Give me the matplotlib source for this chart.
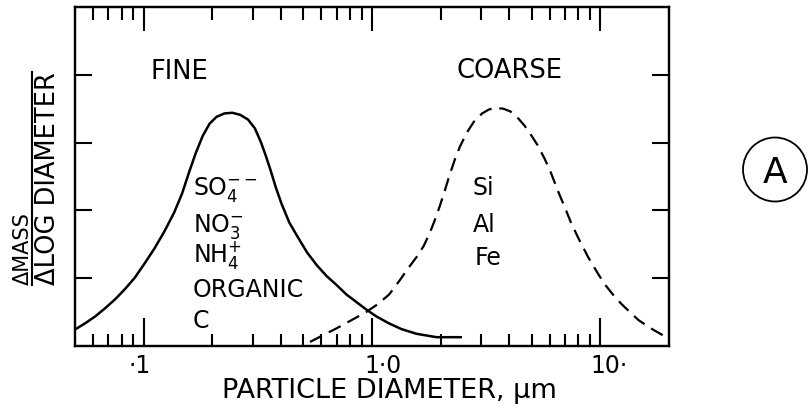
import matplotlib
matplotlib.use('Agg')
import matplotlib.pyplot as plt
import matplotlib.transforms as mtransforms
from matplotlib.patches import Circle
from matplotlib.lines import Line2D

plt.rcParams['font.family'] = ['DejaVu Sans']
plt.rcParams['mathtext.default'] = 'regular'

# ---------------- data ----------------
fine_x = [0.0504, 0.0557, 0.0615, 0.0679, 0.0750, 0.0828, 0.0915, 0.1010,
          0.1115, 0.1232, 0.1360, 0.1473, 0.1579, 0.1692, 0.1814, 0.1944,
          0.2084, 0.2256, 0.2443, 0.2645, 0.2863, 0.3069, 0.3258, 0.3423,
          0.3597, 0.3781, 0.4013, 0.4344, 0.4704, 0.5194, 0.5735, 0.6333,
          0.6994, 0.7723, 0.8532, 0.9421, 1.041, 1.177, 1.344, 1.566,
          1.919, 2.476]
fine_y = [0.25, 0.34, 0.44, 0.56, 0.69, 0.84, 1.01, 1.22,
          1.44, 1.69, 1.97, 2.25, 2.56, 2.85, 3.10, 3.28,
          3.38, 3.43, 3.44, 3.41, 3.34, 3.21, 3.01, 2.81,
          2.59, 2.35, 2.10, 1.82, 1.62, 1.38, 1.19, 1.03,
          0.90, 0.76, 0.65, 0.54, 0.44, 0.34, 0.25, 0.18,
          0.13, 0.13]

coarse_x = [0.535, 0.603, 0.699, 0.812, 0.942, 1.063, 1.189, 1.317, 1.443,
            1.566, 1.681, 1.787, 1.881, 1.980, 2.083, 2.191, 2.306, 2.427,
            2.606, 2.798, 3.036, 3.261, 3.501, 3.760, 4.038, 4.337, 4.658,
            5.002, 5.318, 5.709, 6.070, 6.519, 7.001, 7.442, 7.993, 8.850,
            9.799, 10.52, 11.42, 12.38, 13.58, 14.73, 16.65, 19.00]
coarse_y = [0.06, 0.15, 0.26, 0.38, 0.50, 0.62, 0.76, 0.96, 1.15,
            1.31, 1.47, 1.66, 1.85, 2.06, 2.29, 2.53, 2.75, 2.94,
            3.15, 3.31, 3.43, 3.49, 3.51, 3.50, 3.46, 3.37, 3.25,
            3.10, 2.96, 2.76, 2.56, 2.29, 2.04, 1.82, 1.60, 1.31,
            1.06, 0.90, 0.75, 0.62, 0.49, 0.38, 0.26, 0.15]

x_major_ticks = [0.1, 1.0, 10.0]
x_tick_labels = ['·1', '1·0', '10·']
x_minor_ticks = [0.06, 0.07, 0.08, 0.09, 0.2, 0.3, 0.4, 0.5, 0.6, 0.7, 0.8,
                 0.9, 2, 3, 4, 5, 6, 7, 8, 9]
y_ticks = [1, 2, 3, 4]
mode_labels = ['FINE', 'COARSE']
fine_species = ['SO$_4^{--}$', 'NO$_3^{-}$', 'NH$_4^{+}$', 'ORGANIC', 'C']
coarse_species = ['Si', 'Al', 'Fe']
x_label = 'PARTICLE DIAMETER, µm'
y_label_num = 'ΔMASS'
y_label_den = 'ΔLOG DIAMETER'
panel_letter = 'A'

# ---------------- figure ----------------
W, H = 808, 417
fig = plt.figure(figsize=(W / 100, H / 100), dpi=100)
L, R, T, B = 75, 669, 7, 346
ax = fig.add_axes([L / W, 1 - B / H, (R - L) / W, (B - T) / H])
ax.set_xscale('log')
ax.set_xlim(0.05, 20)
ax.set_ylim(0, 5)

def axc(px, py):
    return (px - L) / (R - L), (B - py) / (B - T)

ax.plot(fine_x, fine_y, color='black', lw=1.8, solid_capstyle='butt',
        solid_joinstyle='round')
ax.plot(coarse_x, coarse_y, color='black', lw=1.6, linestyle=(0, (6, 3.5)))

for s in ax.spines.values():
    s.set_linewidth(1.6)

# ticks
ax.set_xticks(x_major_ticks)
ax.set_xticks(x_minor_ticks, minor=True)
ax.set_xticklabels([])
ax.set_xticklabels([], minor=True)
ax.tick_params(axis='x', which='major', direction='in', length=20, width=1.5,
               top=False, bottom=True)
ax.tick_params(axis='x', which='minor', direction='in', length=9, width=1.5,
               top=False, bottom=True)
ax.set_yticks(y_ticks)
ax.set_yticklabels([])
ax.tick_params(axis='y', which='major', direction='in', length=12, width=1.5,
               left=True, right=True)
ax.tick_params(axis='y', which='minor', left=False, right=False)

ax2 = ax.twiny()
ax2.set_xscale('log')
ax2.set_xlim(ax.get_xlim())
ax2.set_xticks(x_major_ticks)
ax2.set_xticks(x_minor_ticks, minor=True)
ax2.set_xticklabels([])
ax2.set_xticklabels([], minor=True)
ax2.tick_params(axis='x', which='major', direction='in', length=17, width=1.5)
ax2.tick_params(axis='x', which='minor', direction='in', length=9, width=1.5)
for s in ax2.spines.values():
    s.set_linewidth(1.6)

# tick labels
label_dx = [-4.5, 11.5, 8.5]
for xv, lab, dx in zip(x_major_ticks, x_tick_labels, label_dx):
    tr = mtransforms.offset_copy(ax.get_xaxis_transform(), fig=fig,
                                 x=dx, y=-27, units='dots')
    ax.text(xv, 0, lab, transform=tr, ha='center', va='baseline',
            fontsize=17, color='black')

fig.text(389 / W, 1 - 398 / H, x_label, ha='center', va='baseline',
         fontsize=19.5, color='black')

# y label as fraction
fig.text(23 / W, 1 - 285 / H, y_label_num, rotation=90, ha='center',
         va='bottom', fontsize=15, color='black')
fig.text(48 / W, 1 - 285 / H, y_label_den, rotation=90, ha='center',
         va='bottom', fontsize=18.5, color='black')
fig.add_artist(Line2D([32 / W, 32 / W], [1 - 285 / H, 1 - 72 / H],
                      transform=fig.transFigure, color='black', lw=1.5))

# annotations
x0, y0 = axc(179, 72)
ax.text(x0, y0, mode_labels[0], transform=ax.transAxes, ha='center',
        va='center', fontsize=18.5)
x0, y0 = axc(509, 71)
ax.text(x0, y0, mode_labels[1], transform=ax.transAxes, ha='center',
        va='center', fontsize=18.5)

fine_baselines = [195, 232, 262, 297, 328]
for lab, yb in zip(fine_species, fine_baselines):
    x0, y0 = axc(193, yb)
    ax.text(x0, y0, lab, transform=ax.transAxes, ha='left', va='baseline',
            fontsize=17)

coarse_baselines = [195, 232, 265]
coarse_left = [472, 473, 475]
for lab, yb, xl in zip(coarse_species, coarse_baselines, coarse_left):
    x0, y0 = axc(xl, yb)
    ax.text(x0, y0, lab, transform=ax.transAxes, ha='left', va='baseline',
            fontsize=17)

# circled panel letter
circ = Circle((775 / 100, (H - 169.5) / 100), 0.32,
              transform=fig.dpi_scale_trans, fill=False, lw=1.3,
              edgecolor='black')
fig.add_artist(circ)
fig.text(775 / W, 1 - 183 / H, panel_letter, ha='center', va='baseline',
         fontsize=26, color='black')

fig.savefig('out.png', dpi=100, facecolor='white')
